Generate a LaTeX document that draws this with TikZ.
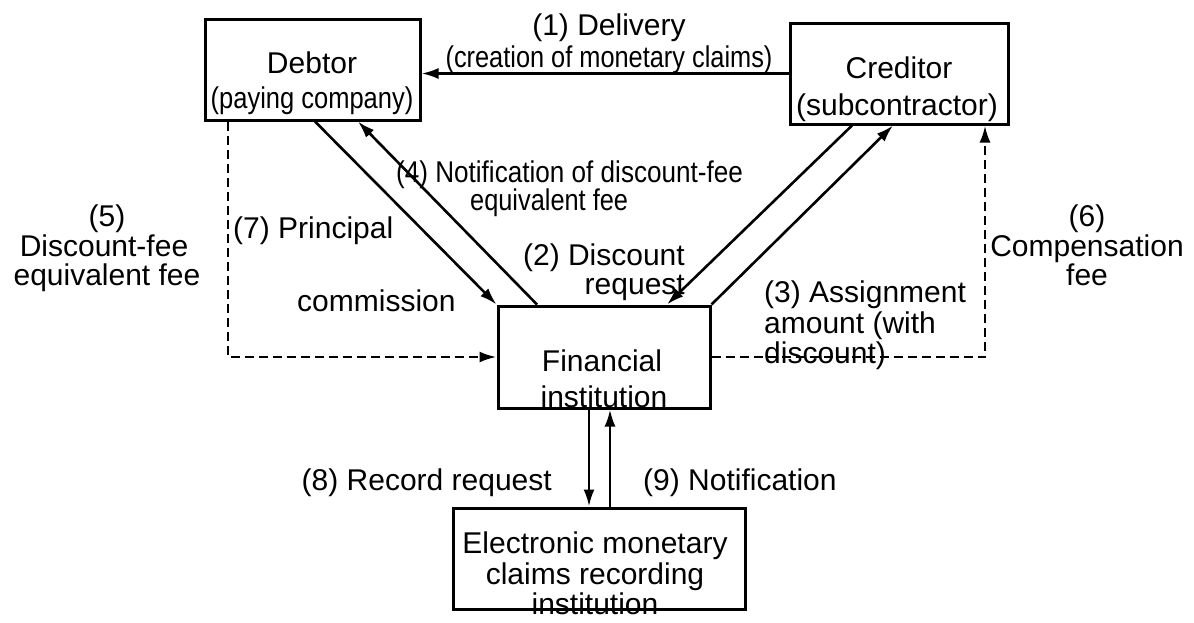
\documentclass[tikz,border=0pt]{standalone}
\usepackage{fontspec}
\setmainfont{Liberation Sans}
\usetikzlibrary{arrows.meta}
\tikzset{
  box/.style={draw, line width=3pt, inner sep=0pt},
  txt/.style={inner sep=0pt, font=\fontsize{30}{36}\selectfont},
  arr/.style={line width=2.6pt, -{Latex[length=17pt,width=11pt]}},
  darr/.style={line width=2.6pt, dash pattern=on 9pt off 5pt, -{Latex[length=17pt,width=11pt]}},
}
\newcommand{\sq}[2]{\scalebox{#1}[1]{#2}}
\begin{document}
\begin{tikzpicture}[x=1pt,y=-1pt]
\useasboundingbox (0,0) rectangle (1194,622);
% boxes
\node[box, minimum width=215pt, minimum height=101pt] (debtor) at (312.5,69.5) {};
\node[box, minimum width=218pt, minimum height=101pt] (creditor) at (899,73.5) {};
\node[box, minimum width=212pt, minimum height=102pt] (fin) at (604,357) {};
\node[box, minimum width=292pt, minimum height=101pt] (elec) at (599,558.5) {};
% connection points
\coordinate (d7) at ([xshift=2.5pt]debtor.south);
\coordinate (d4) at ([xshift=45.5pt]debtor.south);
\coordinate (d5) at ([xshift=-84.5pt]debtor.south);
\coordinate (f4) at ([xshift=-67pt]fin.north);
\coordinate (f2) at ([xshift=63pt]fin.north);
\coordinate (c2) at ([xshift=-47pt]creditor.south);
\coordinate (c3) at ([xshift=-6pt]creditor.south);
\coordinate (c6) at ([xshift=86pt]creditor.south);
\coordinate (f8) at ([xshift=-15pt]fin.south);
\coordinate (f9) at ([xshift=6pt]fin.south);
% connectors
\draw[arr] (creditor.west) -- (creditor.west -| debtor.east);
\draw[arr] (d7) -- (fin.north west);
\draw[arr] (f4) -- (d4);
\draw[arr] (c2) -- (f2);
\draw[arr] (fin.north east) -- (c3);
\draw[darr] (d5) |- (fin.west);
\draw[darr] (fin.east) -| (c6);
\draw[arr] (f8) -- (f8 |- elec.north);
\draw[arr] (f9 |- elec.north) -- (f9);
% box texts
\node[txt, anchor=base] (tdeb1) at (312,73) {Debtor};
\node[txt, anchor=base] (tdeb2) at (312,108) {\sq{0.85}{(paying company)}};
\node[txt, anchor=base] (tcre1) at (899,78) {Creditor};
\node[txt, anchor=base] (tcre2) at (897,115) {(subcontractor)};
\node[txt, anchor=base] (tfin1) at (602,371) {Financial};
\node[txt, anchor=base] (tfin2) at (604,407) {institution};
\node[txt, anchor=base] (tel1) at (595,553) {Electronic monetary};
\node[txt, anchor=base] (tel2) at (595,584) {claims recording};
\node[txt, anchor=base] (tel3) at (595,614) {institution};
% labels
\node[txt, anchor=base] (l1a) at (609,35) {(1) Delivery};
\node[txt, anchor=base] (l1b) at (609,67) {\sq{0.845}{(creation of monetary claims)}};
\node[txt, anchor=base west] (l4a) at (396,182) {\sq{0.87}{(4) Notification of discount-fee}};
\node[txt, anchor=base west] (l4b) at (470,210) {\sq{0.845}{equivalent fee}};
\node[txt, anchor=base west] (l7a) at (233,238) {(7) Principal};
\node[txt, anchor=base west] (l7b) at (297,311) {commission};
\node[txt, anchor=base east] (l2a) at (685,265) {(2) Discount};
\node[txt, anchor=base east] (l2b) at (685,294) {request};
\node[txt, anchor=base west] (l3a) at (764,302) {(3) Assignment};
\node[txt, anchor=base west] (l3b) at (764,333) {amount (with};
\node[txt, anchor=base west] (l3c) at (764,363) {discount)};
\node[txt, anchor=base] (l5a) at (107,226) {(5)};
\node[txt, anchor=base] (l5b) at (104,256) {Discount-fee};
\node[txt, anchor=base] (l5c) at (107,285) {equivalent fee};
\node[txt, anchor=base] (l6a) at (1087,226) {(6)};
\node[txt, anchor=base] (l6b) at (1087,256) {Compensation};
\node[txt, anchor=base] (l6c) at (1087,285) {fee};
\node[txt, anchor=base east] (l8) at (552,490) {(8) Record request};
\node[txt, anchor=base west] (l9) at (643,490) {(9) Notification};
\end{tikzpicture}
\end{document}
